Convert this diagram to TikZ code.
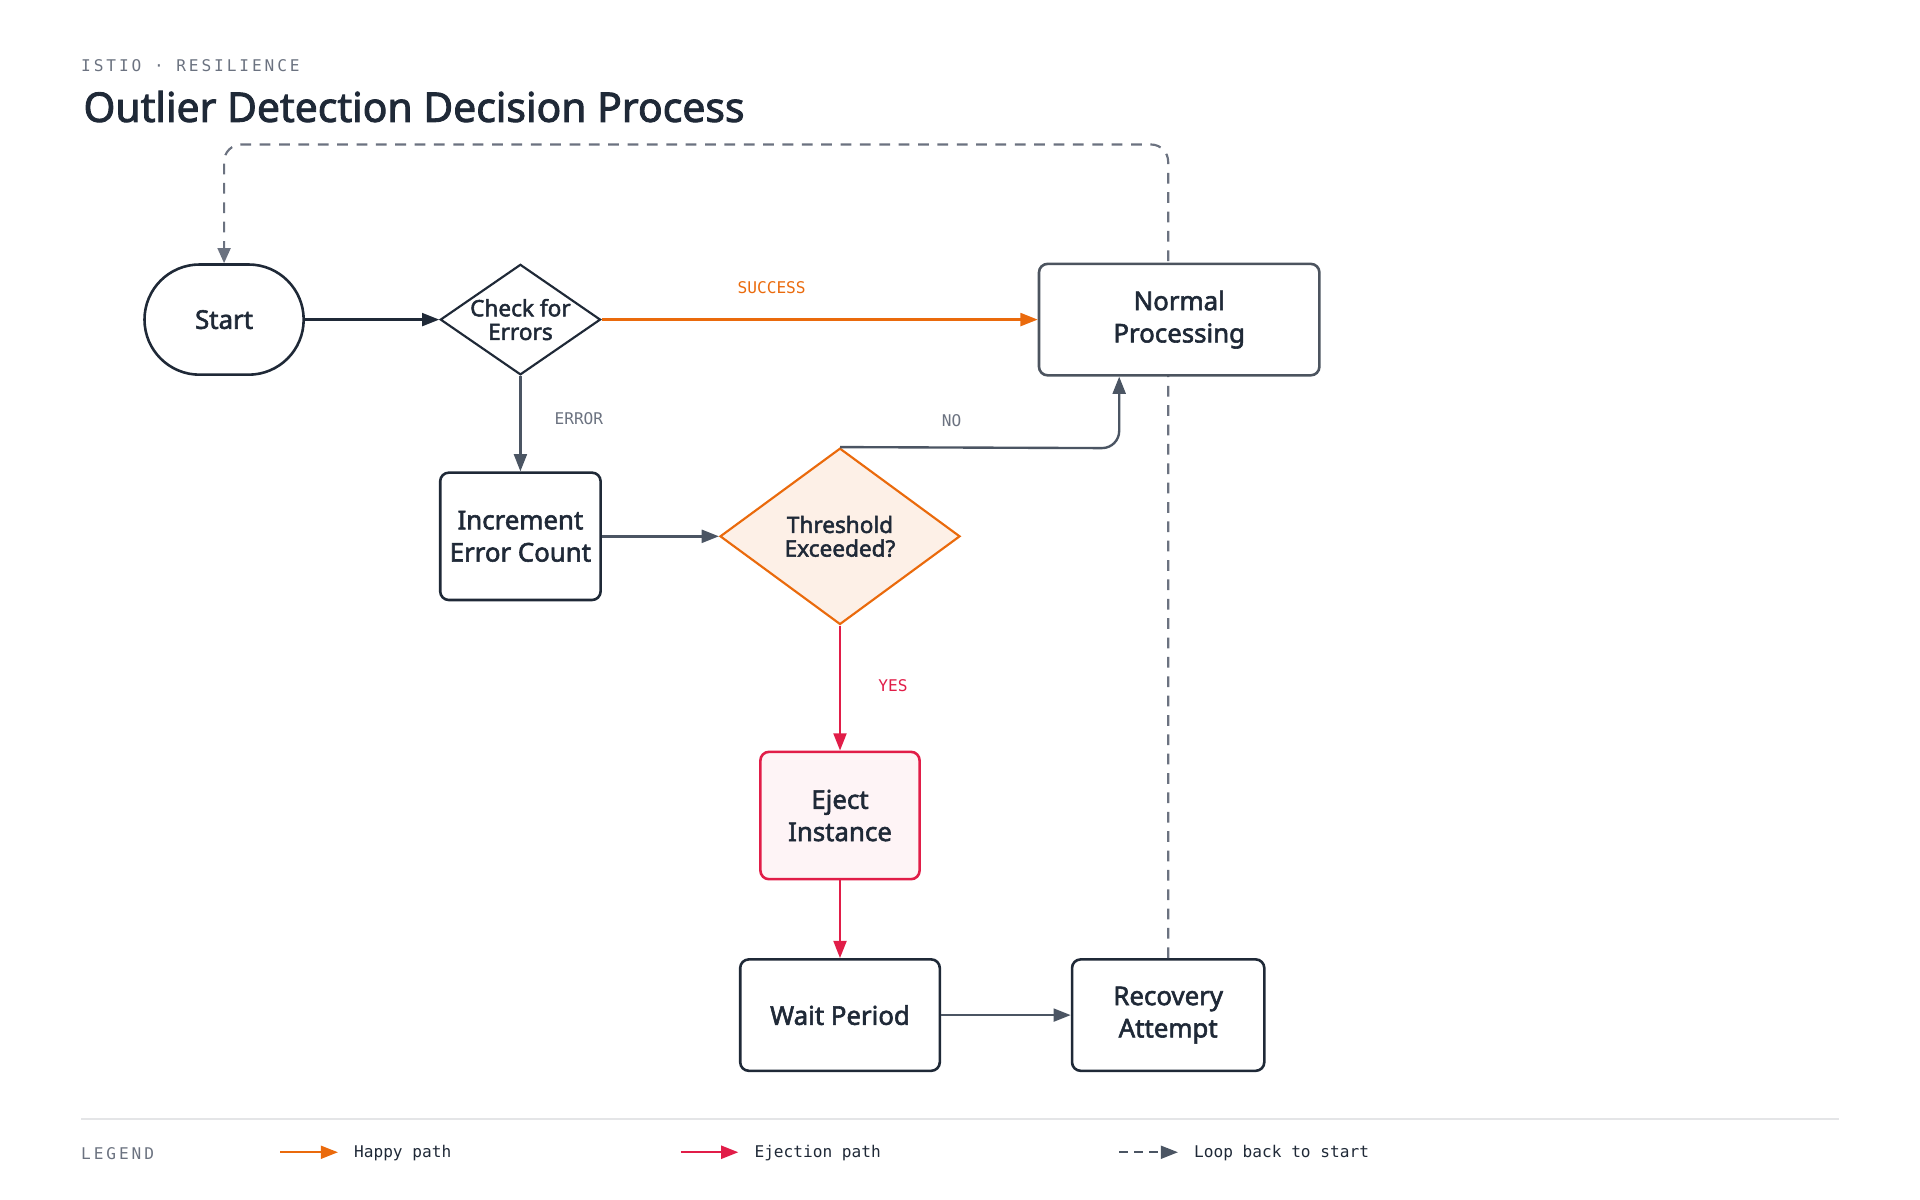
\documentclass[tikz,border=0pt]{standalone}
\usepackage{fontspec}
\setmainfont{Noto Sans}[AutoFakeBold=2.2]
\setmonofont{DejaVu Sans Mono}
\usetikzlibrary{shapes.geometric,arrows.meta}
\definecolor{ink}{HTML}{1F2937}
\definecolor{muted}{HTML}{6B7280}
\definecolor{happy}{HTML}{EA6A0C}
\definecolor{eject}{HTML}{E11D48}
\definecolor{loopc}{HTML}{4B5563}
\tikzset{
  box/.style={draw=ink,line width=1.2pt,rounded corners=4pt,fill=white,align=center,
    font=\bfseries\fontsize{12}{15}\selectfont,text=ink,inner sep=0pt},
  dec/.style={diamond,draw=ink,line width=1pt,fill=white,align=center,aspect=1.45,
    font=\bfseries\fontsize{10.5}{11}\selectfont,text=ink,inner sep=0pt},
  flow/.style={line width=1.1pt,loopc,-{Triangle[length=8pt,width=6pt]}},
  lbl/.style={font=\ttfamily\fontsize{7.5}{9}\selectfont},
  spaced/.style={font=\ttfamily\fontsize{7.5}{9}\selectfont\addfontfeatures{LetterSpace=18}},
}
\begin{document}
\begin{tikzpicture}[x=0.02cm,y=-0.02cm]
\useasboundingbox (0,0) rectangle (1568,980);

\node[anchor=west,spaced,text=muted,inner sep=0pt] (kicker) at (66,54) {ISTIO · RESILIENCE};
\node[anchor=west,text=ink,font=\bfseries\fontsize{19}{22}\selectfont] (title) at (62,87) {Outlier Detection Decision Process};

% loop back corners
\coordinate (lp1) at (954,118);
\coordinate (lp2) at (183,118);

\node[box,rounded corners=0.9cm,minimum width=130*0.02cm,minimum height=90*0.02cm] (start) at (183,261) {Start};
\node[dec,minimum width=130*0.02cm,minimum height=90*0.02cm] (check) at (425,261) {Check for\\Errors};
\node[box,minimum width=131*0.02cm,minimum height=104*0.02cm] (incr) at (425,438) {Increment\\Error Count};
\node[dec,draw=happy,fill=happy!10,minimum width=196*0.02cm,minimum height=144*0.02cm] (thresh) at (686,438) {Threshold\\Exceeded?};
\node[box,draw=eject,fill=eject!5,minimum width=130*0.02cm,minimum height=104*0.02cm] (ejectn) at (686,666) {Eject\\Instance};
\node[box,minimum width=163*0.02cm,minimum height=91*0.02cm] (wait) at (686,829) {Wait Period};
\node[box,minimum width=157*0.02cm,minimum height=91*0.02cm] (recov) at (954,829) {Recovery\\Attempt};

\draw[muted,line width=1pt,dash pattern=on 5pt off 4pt,rounded corners=8pt,-{Triangle[length=7pt,width=6pt]}]
  (recov.north) -- (lp1) -- (lp2) -- (start.north);
\node[box,draw=ink!80,minimum width=229*0.02cm,minimum height=91*0.02cm] (normal) at (963,261) {Normal\\Processing};

\draw[flow,ink] (start.east) -- (check.west);
\draw[flow,happy] (check.east) -- node[lbl,text=happy,above=8pt,pos=0.39] (succ) {SUCCESS} (normal.west);
\draw[flow] (check.south) -- node[lbl,text=muted,right=12pt,pos=0.45] (err) {ERROR} (incr.north);
\draw[flow] (incr.east) -- (thresh.west);
\coordinate (nocorner) at (914,366);
\draw[flow,rounded corners=8pt] (thresh.north) -- node[lbl,text=muted,above=6pt,pos=0.4] (no) {NO} (nocorner) -- (normal.south -| nocorner);
\draw[flow,eject] (thresh.south) -- node[lbl,text=eject,right=14pt,pos=0.48] (yes) {YES} (ejectn.north);
\draw[flow,eject] (ejectn.south) -- (wait.north);
\draw[flow] (wait.east) -- (recov.west);

% legend
\draw[ink!12,line width=0.8pt] (66,914) -- (1502,914);
\node[anchor=west,spaced,text=muted,inner sep=0pt] (leg) at (66,942) {LEGEND};
\coordinate (h1) at (229,941); \coordinate (h2) at (276,941);
\draw[flow,happy] (h1) -- (h2);
\node[anchor=west,lbl,text=ink] (legh) at (283,942) {Happy path};
\coordinate (e1) at (556,941); \coordinate (e2) at (603,941);
\draw[flow,eject] (e1) -- (e2);
\node[anchor=west,lbl,text=ink] (lege) at (610,942) {Ejection path};
\coordinate (l1) at (914,941); \coordinate (l2) at (962,941);
\draw[flow,dash pattern=on 4pt off 3pt] (l1) -- (l2);
\node[anchor=west,lbl,text=ink] (legl) at (969,942) {Loop back to start};
\end{tikzpicture}
\end{document}
